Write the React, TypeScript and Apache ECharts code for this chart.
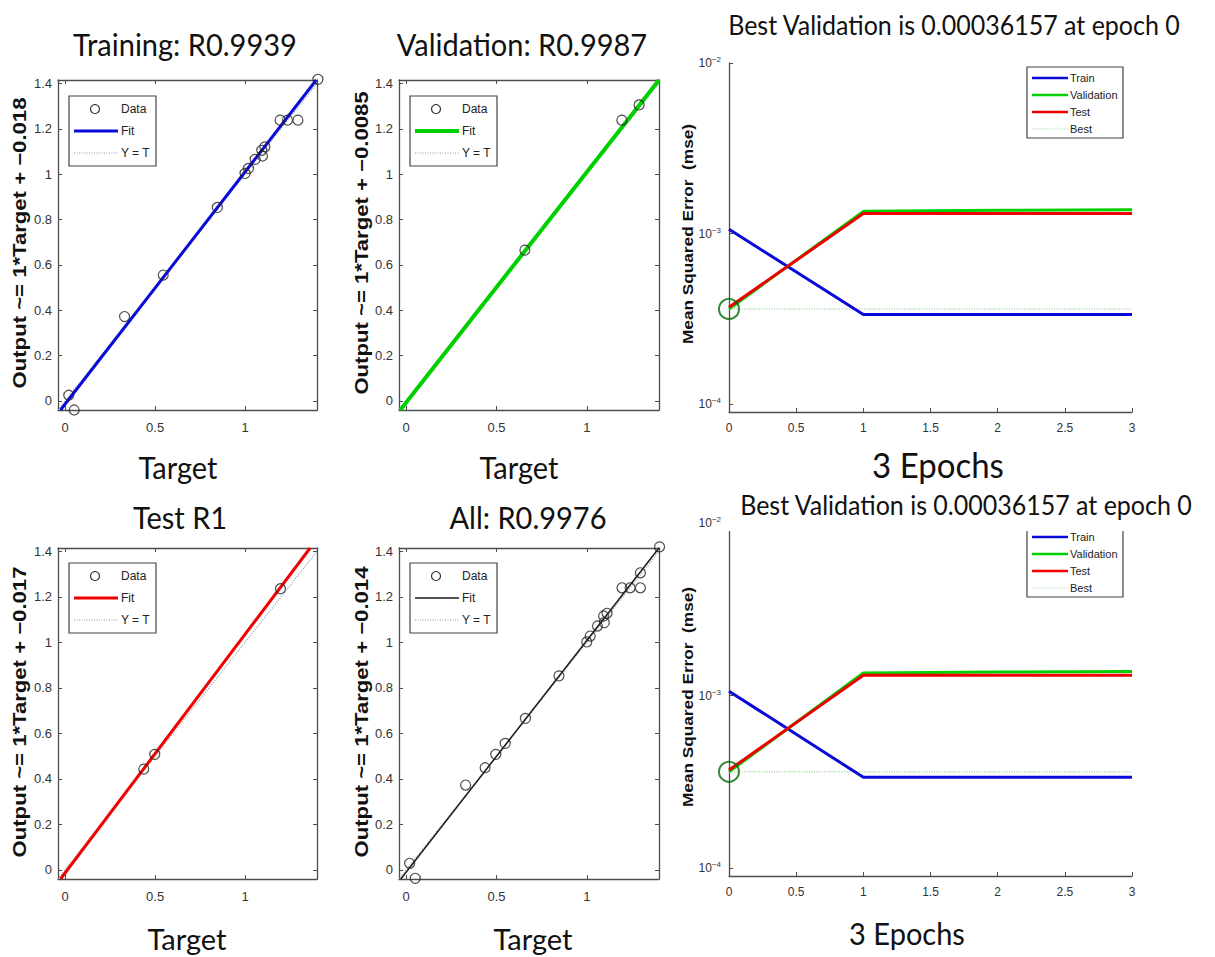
import React, { useEffect, useRef } from "react";
import * as echarts from "echarts";

// ---------- data ----------
const trainingTarget = [0.02, 0.05, 0.33, 0.545, 0.846, 1.0, 1.019, 1.056, 1.097, 1.093, 1.11, 1.195, 1.236, 1.294, 1.405];
const trainingOutput = [0.025, -0.04, 0.372, 0.555, 0.853, 1.003, 1.025, 1.065, 1.08, 1.105, 1.12, 1.238, 1.238, 1.238, 1.418];
const validationTarget = [0.657, 1.194, 1.29];
const validationOutput = [0.665, 1.238, 1.305];
const testTarget = [0.437, 0.498, 1.197];
const testOutput = [0.443, 0.508, 1.236];
const allTarget = [0.019, 0.05, 0.329, 0.437, 0.496, 0.548, 0.66, 0.846, 1.0, 1.019, 1.059, 1.097, 1.093, 1.112, 1.195, 1.24, 1.297, 1.297, 1.403];
const allOutput = [0.029, -0.037, 0.373, 0.449, 0.508, 0.556, 0.666, 0.853, 1.002, 1.028, 1.072, 1.087, 1.116, 1.128, 1.24, 1.24, 1.306, 1.24, 1.42];

// fit line end points (target, output)
const trainingFit = [[-0.026, -0.04], [1.396, 1.415]];
const validationFit = [[-0.033, -0.04], [1.4, 1.415]];
const testFit = [[-0.026, -0.04], [1.362, 1.415]];
const allFit = [[-0.03, -0.04], [1.4, 1.415]];
const identityLine = [[-0.04, -0.04], [1.4, 1.4]];

const regTitles = ["Training: R0.9939", "Validation: R0.9987", "Test R1", "All: R0.9976"];
const regYNames = [
  "Output ~= 1*Target + \u22120.018",
  "Output ~= 1*Target + \u22120.0085",
  "Output ~= 1*Target + \u22120.017",
  "Output ~= 1*Target + \u22120.014",
];

const epochs = [0, 1, 2, 3];
const trainMse = [1.06e-3, 3.36e-4, 3.36e-4, 3.36e-4];
const validationMse = [3.6157e-4, 1.35e-3, 1.37e-3, 1.38e-3];
const testMse = [3.7e-4, 1.31e-3, 1.31e-3, 1.31e-3];
const bestEpoch = 0;
const bestValue = 3.6157e-4;
const perfTitle = "Best Validation is 0.00036157 at epoch 0";
const perfXName = "3 Epochs";
const perfYName = "Mean Squared Error  (mse)";
const perfLegend = ["Train", "Validation", "Test", "Best"];

// ---------- styling ----------
const AX = "#4d4d4d";
const LBL = "#333";
const SANS = "'Liberation Sans', Arial, sans-serif";
const TITLE_FONT = "Lato, 'Open Sans', sans-serif";
const C_BLUE = "#0a0ad8";
const C_GREEN = "#00d000";
const C_RED = "#f00000";
const C_BLACK = "#1a1a1a";
const C_IDENT = "#8d9aa6";

const regGrids = [
  { left: 58, top: 80, width: 259, height: 330 },
  { left: 399, top: 80, width: 260, height: 330 },
  { left: 58, top: 548, width: 259, height: 331 },
  { left: 399, top: 548, width: 260, height: 331 },
];
const perfGrids = [
  { left: 729, top: 63, width: 403, height: 349 },
  { left: 729, top: 523, width: 403, height: 353 },
];

function zip(a: number[], b: number[]) {
  return a.map((v, i) => [v, b[i]]);
}

function bigText(text: string, x: number, y: number, size: number, sy = 1.1, z = 101) {
  return {
    type: "text",
    x,
    y,
    scaleY: sy,
    z,
    style: {
      text,
      fill: "#111",
      font: `normal ${size}px ${TITLE_FONT}`,
      align: "center",
      verticalAlign: "middle",
      textAlign: "center",
      textVerticalAlign: "middle",
    },
  };
}

function vText(text: string, x: number, y: number, size: number, sx: number) {
  return {
    type: "text",
    x,
    y,
    rotation: Math.PI / 2,
    scaleX: sx,
    z: 20,
    style: {
      text,
      fill: "#111",
      font: `bold ${size}px ${SANS}`,
      align: "center",
      verticalAlign: "middle",
      textAlign: "center",
      textVerticalAlign: "middle",
    },
  };
}

function smallText(text: string, x: number, y: number, z = 12) {
  return {
    type: "text",
    x,
    y,
    z,
    style: {
      text,
      fill: "#222",
      font: `normal 12px ${SANS}`,
      align: "left",
      verticalAlign: "middle",
      textAlign: "left",
      textVerticalAlign: "middle",
    },
  };
}

function regLegend(x0: number, y0: number, color: string, lw: number) {
  return [
    { type: "rect", z: 10, shape: { x: x0, y: y0, width: 87, height: 70 }, style: { fill: "#fff", stroke: "#444", lineWidth: 1.2 } },
    { type: "circle", z: 11, shape: { cx: x0 + 26, cy: y0 + 13, r: 4.5 }, style: { fill: "none", stroke: "#222", lineWidth: 1.1 } },
    smallText("Data", x0 + 52, y0 + 13),
    { type: "line", z: 11, shape: { x1: x0 + 5, y1: y0 + 35, x2: x0 + 49, y2: y0 + 35 }, style: { stroke: color, lineWidth: lw } },
    smallText("Fit", x0 + 52, y0 + 35),
    { type: "line", z: 11, shape: { x1: x0 + 5, y1: y0 + 57, x2: x0 + 49, y2: y0 + 57 }, style: { stroke: C_IDENT, lineWidth: 1, lineDash: [1, 1.5] } },
    smallText("Y = T", x0 + 52, y0 + 57),
  ];
}

function perfLegendEls(x0: number, y0: number) {
  const colors = [C_BLUE, C_GREEN, C_RED, "#a8d8a8"];
  const els: any[] = [
    { type: "rect", z: 10, shape: { x: x0, y: y0, width: 96, height: 71 }, style: { fill: "#fff", stroke: "#444", lineWidth: 1.2 } },
  ];
  perfLegend.forEach((name, i) => {
    const y = y0 + 11 + i * 17;
    els.push({
      type: "line",
      z: 11,
      shape: { x1: x0 + 5, y1: y, x2: x0 + 41, y2: y },
      style: i === 3 ? { stroke: colors[i], lineWidth: 1.2, lineDash: [1, 1.5] } : { stroke: colors[i], lineWidth: 2.5 },
    });
    els.push({
      type: "text",
      z: 11,
      x: x0 + 43,
      y,
      style: {
        text: name,
        fill: "#222",
        font: `normal 11px ${SANS}`,
        align: "left",
        verticalAlign: "middle",
        textAlign: "left",
        textVerticalAlign: "middle",
      },
    });
  });
  return els;
}

export default function App() {
  const ref = useRef<HTMLDivElement>(null);

  useEffect(() => {
    if (!ref.current) return;
    const chart = echarts.init(ref.current, null, { renderer: "svg" });

    const grids: any[] = [...regGrids, ...perfGrids].map((g) => ({ ...g, containLabel: false }));
    const xAxes: any[] = [];
    const yAxes: any[] = [];
    const series: any[] = [];

    const regSets = [
      { t: trainingTarget, o: trainingOutput, fit: trainingFit, color: C_BLUE, lw: 3 },
      { t: validationTarget, o: validationOutput, fit: validationFit, color: C_GREEN, lw: 4 },
      { t: testTarget, o: testOutput, fit: testFit, color: C_RED, lw: 3 },
      { t: allTarget, o: allOutput, fit: allFit, color: C_BLACK, lw: 1.5 },
    ];

    regSets.forEach((s, i) => {
      const baseX = {
        type: "value",
        gridIndex: i,
        min: -0.04,
        max: 1.4,
        minInterval: 0.5,
        maxInterval: 0.5,
        splitLine: { show: false },
        axisLine: { onZero: false, lineStyle: { color: AX, width: 1.3 } },
        axisTick: { inside: true, length: 4, lineStyle: { color: AX } },
      };
      const baseY = {
        type: "value",
        gridIndex: i,
        min: -0.04,
        max: 1.415,
        minInterval: 0.2,
        maxInterval: 0.2,
        splitLine: { show: false },
        axisLine: { onZero: false, lineStyle: { color: AX, width: 1.3 } },
        axisTick: { inside: true, length: 4, lineStyle: { color: AX } },
      };
      xAxes.push({
        ...baseX,
        position: "bottom",
        axisLabel: { showMinLabel: false, showMaxLabel: false, color: LBL, fontFamily: SANS, fontSize: 13, margin: 11 },
      });
      xAxes.push({ ...baseX, position: "top", axisLabel: { show: false } });
      yAxes.push({
        ...baseY,
        position: "left",
        axisLabel: { showMinLabel: false, showMaxLabel: false, color: LBL, fontFamily: SANS, fontSize: 13, margin: 6 },
      });
      yAxes.push({ ...baseY, position: "right", axisLabel: { show: false } });

      const xi = i * 2;
      series.push({
        name: "Y = T",
        type: "line",
        xAxisIndex: xi,
        yAxisIndex: xi,
        data: identityLine,
        showSymbol: false,
        z: 2,
        lineStyle: { color: C_IDENT, width: 1.2, type: [1, 1.5] },
      });
      series.push({
        name: "Fit",
        type: "line",
        xAxisIndex: xi,
        yAxisIndex: xi,
        data: s.fit,
        showSymbol: false,
        z: 3,
        lineStyle: { color: s.color, width: s.lw },
      });
      series.push({
        name: "Data",
        type: "scatter",
        xAxisIndex: xi,
        yAxisIndex: xi,
        data: zip(s.t, s.o),
        symbol: "circle",
        symbolSize: 10,
        clip: false,
        z: 5,
        itemStyle: { color: "rgba(0,0,0,0)", borderColor: "#222", borderWidth: 1.2 },
      });
    });

    perfGrids.forEach((_, k) => {
      const gi = 4 + k;
      xAxes.push({
        type: "value",
        gridIndex: gi,
        min: 0,
        max: 3,
        interval: 0.5,
        position: "bottom",
        splitLine: { show: false },
        axisLine: { onZero: false, lineStyle: { color: AX, width: 1.3 } },
        axisTick: { inside: true, length: 4, lineStyle: { color: AX } },
        axisLabel: { color: LBL, fontFamily: SANS, fontSize: 12, margin: 10 },
      });
      yAxes.push({
        type: "log",
        logBase: 10,
        gridIndex: gi,
        min: 9e-5,
        max: 1e-2,
        position: "left",
        splitLine: { show: false },
        axisLine: { onZero: false, lineStyle: { color: AX, width: 1.3 } },
        axisTick: { inside: true, length: 4, lineStyle: { color: AX } },
        axisLabel: {
          showMinLabel: false,
          margin: 8,
          formatter: (v: number) => {
            const e = Math.log10(v);
            const r = Math.round(e);
            if (Math.abs(e - r) > 1e-6) return "";
            return `{b|10}{s|\u2212${-r}}`;
          },
          rich: {
            b: { fontSize: 12, color: LBL, fontFamily: SANS },
            s: { fontSize: 8, color: LBL, fontFamily: SANS, verticalAlign: "top", padding: [0, 0, 7, 0] },
          },
        },
      });
      const ai = 8 + k;
      const mk = (name: string, ys: number[], color: string, z: number) => ({
        name,
        type: "line",
        xAxisIndex: ai,
        yAxisIndex: ai,
        data: zip(epochs, ys),
        showSymbol: false,
        z,
        lineStyle: { color, width: 3 },
      });
      series.push({
        name: "Best",
        type: "line",
        xAxisIndex: ai,
        yAxisIndex: ai,
        data: [
          [epochs[0], bestValue],
          [epochs[epochs.length - 1], bestValue],
        ],
        showSymbol: false,
        z: 2,
        lineStyle: { color: "#a8d8a8", width: 1.5, type: [1, 1.5] },
      });
      series.push(mk("Train", trainMse, C_BLUE, 3));
      series.push(mk("Validation", validationMse, C_GREEN, 4));
      series.push(mk("Test", testMse, C_RED, 5));
      series.push({
        name: "Best point",
        type: "scatter",
        xAxisIndex: ai,
        yAxisIndex: ai,
        data: [[bestEpoch, bestValue]],
        symbol: "circle",
        symbolSize: 20,
        clip: false,
        z: 6,
        itemStyle: { color: "rgba(0,0,0,0)", borderColor: "#006a00", borderWidth: 2 },
      });
    });

    const graphics: any[] = [
      bigText(regTitles[0], 185, 44, 29, 1.08),
      bigText(regTitles[1], 522, 44, 29, 1.08),
      bigText(regTitles[2], 180, 517, 29, 1.08),
      bigText(regTitles[3], 528, 517, 29, 1.08),
      bigText("Target", 178, 467, 29, 1.05),
      bigText("Target", 519, 467, 29, 1.05),
      bigText("Target", 187, 938, 29, 1.0),
      bigText("Target", 533, 938, 29, 1.0),
      vText(regYNames[0], 20, 243, 18, 1.23),
      vText(regYNames[1], 362, 243, 18, 1.23),
      vText(regYNames[2], 20, 712, 18, 1.23),
      vText(regYNames[3], 362, 712, 18, 1.23),
      vText(perfYName, 688, 234, 14, 1.23),
      vText(perfYName, 688, 697, 14, 1.23),
      ...regLegend(69, 96, C_BLUE, 3),
      ...regLegend(410, 96, C_GREEN, 4),
      ...regLegend(69, 563, C_RED, 3),
      ...regLegend(410, 563, C_BLACK, 1.5),
      ...perfLegendEls(1027, 67),
      ...perfLegendEls(1027, 526),
      { type: "rect", z: 100, shape: { x: 726, y: 486, width: 489, height: 45 }, style: { fill: "#fff" } },
      bigText(perfTitle, 954, 25, 25, 1.08),
      bigText(perfTitle, 966, 505, 25, 1.08),
      bigText(perfXName, 938, 464, 33, 1.08),
      bigText(perfXName, 907, 933, 29, 1.05),
    ];

    chart.setOption({
      animation: false,
      backgroundColor: "#fff",
      grid: grids,
      xAxis: xAxes,
      yAxis: yAxes,
      series,
      graphic: { elements: graphics },
    });

    return () => chart.dispose();
  }, []);

  return (
    <div
      ref={ref}
      style={{ position: "absolute", left: 0, top: 0, width: 1215, height: 957, background: "#fff" }}
    />
  );
}
